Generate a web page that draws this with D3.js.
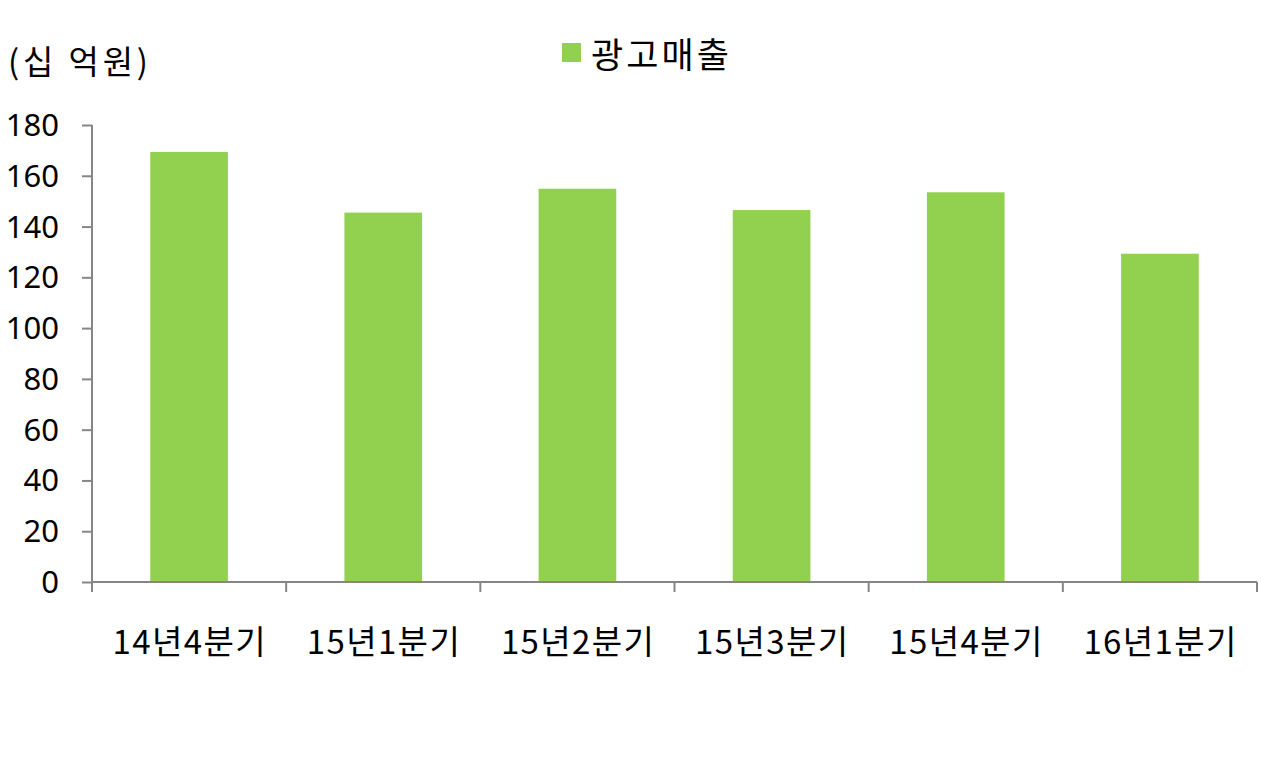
<!DOCTYPE html>
<html><head><meta charset="utf-8">
<script src="https://cdn.jsdelivr.net/npm/d3@7"></script>
<style>html,body{margin:0;padding:0;background:#fff;}svg{display:block;font-family:"Noto Sans CJK KR","Noto Sans",sans-serif;}</style>
</head><body>
<svg id="c" width="1280" height="768"></svg>
<script>
const categories = ["14년4분기","15년1분기","15년2분기","15년3분기","15년4분기","16년1분기"];
const values = [169.4, 145.5, 154.9, 146.5, 153.5, 129.3];
const yTicks = [0,20,40,60,80,100,120,140,160,180];
const seriesName = "광고매출";
const unitLabel = "(십 억원)";

(function(){
const svg = d3.select("#c");
const mLeft = 92, mRight = 1257, mTop = 125, mBottom = 582;
const axisColor = "#868686", barColor = "#92D050";

const x = d3.scaleBand().domain(categories).range([mLeft, mRight]).paddingInner(0.6).paddingOuter(0.3);
const y = d3.scaleLinear().domain([0,180]).range([mBottom, mTop]);

svg.append("g").selectAll("rect").data(values).join("rect")
  .attr("x", (d,i)=>x(categories[i])).attr("width", x.bandwidth())
  .attr("y", d=>y(d)).attr("height", d=>y(0)-y(d)).attr("fill", barColor);

// y axis
const ya = svg.append("g").attr("transform",`translate(${mLeft},0)`)
  .call(d3.axisLeft(y).tickValues(yTicks).tickSize(10).tickPadding(10).tickFormat(d3.format("d")));
ya.select(".domain").attr("stroke",axisColor).attr("stroke-width",2).attr("d",`M0,${mTop}V${mBottom}`);
ya.selectAll(".tick line").attr("stroke",axisColor).attr("stroke-width",2);
ya.selectAll(".tick text").attr("fill","#000").attr("font-size",31).attr("font-family","'Noto Sans','Noto Sans CJK KR',sans-serif").attr("x",-33).attr("dy","0.34em");

// x axis
const bounds = d3.range(categories.length+1).map(i=>mLeft + i*(mRight-mLeft)/categories.length);
const xa = svg.append("g");
xa.append("line").attr("x1",mLeft).attr("x2",mRight).attr("y1",mBottom).attr("y2",mBottom).attr("stroke",axisColor).attr("stroke-width",2);
xa.selectAll("line.t").data(bounds).join("line").attr("class","t")
  .attr("x1",d=>d).attr("x2",d=>d).attr("y1",mBottom).attr("y2",mBottom+10).attr("stroke",axisColor).attr("stroke-width",2);
xa.selectAll("text").data(categories).join("text")
  .attr("x",d=>x(d)+x.bandwidth()/2).attr("y",654).attr("text-anchor","middle")
  .attr("font-size",33).attr("textLength",153).attr("lengthAdjust","spacing").attr("fill","#000").text(d=>d);

// unit label
svg.append("text").attr("x",8).attr("y",74).attr("font-size",33).attr("textLength",140).attr("lengthAdjust","spacing").attr("fill","#000").text(unitLabel);

// legend
svg.append("rect").attr("x",562).attr("y",43).attr("width",19).attr("height",19).attr("fill",barColor);
svg.append("text").attr("x",591).attr("y",68).attr("font-size",35).attr("textLength",138).attr("lengthAdjust","spacing").attr("fill","#000").text(seriesName);
})();
</script>
</body></html>
